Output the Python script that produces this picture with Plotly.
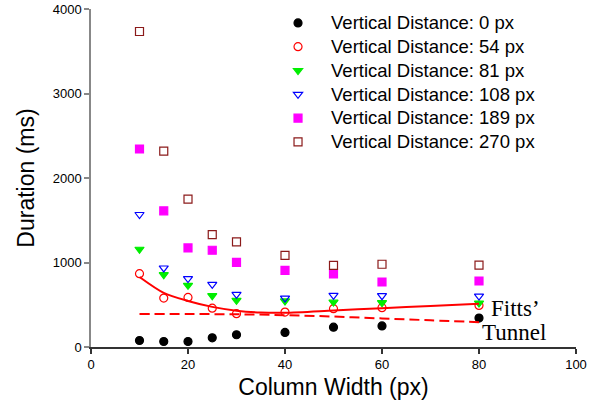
import plotly.graph_objects as go

# Column widths (px) tested
column_width = [10, 15, 20, 25, 30, 40, 50, 60, 80]

# Mean durations (ms) per vertical distance
dur_0 = [77, 65, 65, 109, 145, 172, 235, 250, 342]
dur_54 = [868, 579, 587, 460, 394, 413, 453, 465, 492]
dur_81 = [1157, 856, 730, 607, 552, 545, 531, 524, 520]
dur_108 = [1568, 935, 809, 741, 623, 579, 611, 607, 603]
dur_189 = [2343, 1611, 1172, 1145, 1002, 907, 864, 769, 781]
dur_270 = [3734, 2319, 1750, 1331, 1243, 1085, 967, 979, 970]

# Model curves (ms)
tunnel_x = [10, 15, 20, 25, 30, 35, 40, 50, 60, 70, 80]
tunnel_y = [828, 640, 545, 475, 430, 408, 405, 432, 460, 486, 512]
fitts_x = [10, 20, 30, 40, 50, 60, 70, 80]
fitts_y = [390, 390, 387, 377, 360, 338, 316, 294]

series = [
    ("Vertical Distance: 0 px", dur_0, "circle", "black", "black"),
    ("Vertical Distance: 54 px", dur_54, "circle-open", "red", "red"),
    ("Vertical Distance: 81 px", dur_81, "triangle-down", "#00ee00", "#00ee00"),
    ("Vertical Distance: 108 px", dur_108, "triangle-down-open", "blue", "blue"),
    ("Vertical Distance: 189 px", dur_189, "square", "magenta", "magenta"),
    ("Vertical Distance: 270 px", dur_270, "square-open", "#8b1a1a", "#8b1a1a"),
]

fig = go.Figure()
for name, ys, sym, fill, line in series:
    fig.add_trace(go.Scatter(
        x=column_width, y=ys, mode="markers",
        name='<span style="font-size:18.5px">' + name + "</span>",
        marker=dict(symbol=sym, size=8, color=fill,
                    line=dict(color=line, width=1.2)),
    ))

fig.add_trace(go.Scatter(
    x=tunnel_x, y=tunnel_y, mode="lines", showlegend=False,
    line=dict(color="red", width=2, shape="spline", smoothing=0.8),
))
fig.add_trace(go.Scatter(
    x=fitts_x, y=fitts_y, mode="lines", showlegend=False,
    line=dict(color="red", width=2, dash="10px,5px", shape="spline"),
))

fig.add_annotation(
    x=80, y=457, xref="x", yref="y", text="Fitts’", showarrow=False,
    xanchor="left", yanchor="middle", xshift=10,
    font=dict(family="Liberation Serif", size=23, color="black"),
)
fig.add_annotation(
    x=80, y=172, xref="x", yref="y", text="Tunnel", showarrow=False,
    xanchor="left", yanchor="middle", xshift=1,
    font=dict(family="Liberation Serif", size=23, color="black"),
)

fig.update_layout(
    width=598, height=411,
    margin=dict(l=91, r=22, t=9, b=64, autoexpand=False),
    paper_bgcolor="white", plot_bgcolor="white",
    font=dict(family="Liberation Sans", color="black"),
    legend=dict(
        x=0.3588, xref="paper", y=0.9854, yref="container",
        xanchor="left", yanchor="top",
        bgcolor="rgba(0,0,0,0)", font=dict(size=16),
        itemwidth=56,
    ),
    xaxis=dict(
        range=[0, 100], tickvals=[0, 20, 40, 60, 80, 100],
        showgrid=False, zeroline=False, showline=True, automargin=False,
        linecolor="#333333", linewidth=1.5,
        ticks="outside", ticklen=5, tickcolor="#333333", tickwidth=1.5,
        tickfont=dict(size=13),
        title=dict(text="Column Width (px)", font=dict(size=23), standoff=8),
    ),
    yaxis=dict(
        range=[0, 4000], tickvals=[0, 1000, 2000, 3000, 4000],
        showgrid=False, zeroline=False, showline=True, automargin=False,
        linecolor="#888888", linewidth=1.5,
        ticks="outside", ticklen=5, tickcolor="#888888", tickwidth=1.5,
        tickfont=dict(size=13),
        title=dict(text="Duration (ms)", font=dict(size=23), standoff=12),
    ),
)

fig.write_html("out.html")
